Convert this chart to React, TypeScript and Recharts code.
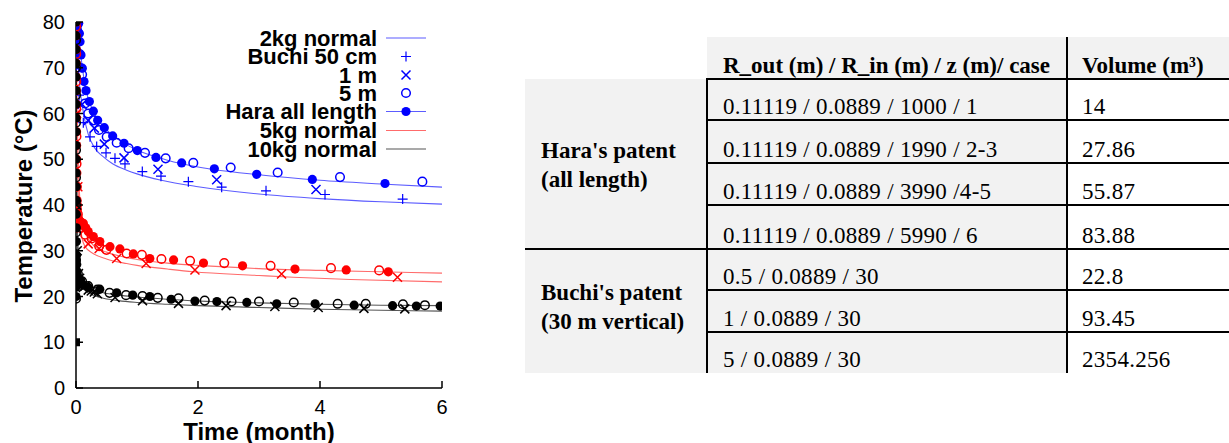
import React from 'react';
import { ComposedChart, Line, Scatter, XAxis, YAxis } from 'recharts';

type Pt = [number, number];

// ---------- chart data (t in months, T in °C) ----------
const xTicks = [0, 2, 4, 6];
const yTicks = [0, 10, 20, 30, 40, 50, 60, 70, 80];

const blueHaraLine: Pt[] = [[0, 80], [0.02, 79], [0.05, 76], [0.1, 70.5], [0.15, 66], [0.2, 63.3], [0.3, 60], [0.5, 56.5], [0.75, 53.8], [1, 52], [1.5, 49.8], [2, 48.3], [3, 46.6], [4, 45.4], [5, 44.6], [6, 43.9]];
const blueNormalLine: Pt[] = [[0, 80], [0.03, 72], [0.06, 66], [0.1, 62], [0.13, 59.5], [0.2, 55.5], [0.3, 52.6], [0.45, 50.5], [0.6, 49], [0.83, 47.6], [1, 46.8], [1.4, 45.4], [2, 44], [3, 42.4], [4, 41.4], [5, 40.7], [6, 40.2]];
const redHaraLine: Pt[] = [[0, 80], [0.01, 70], [0.02, 60], [0.04, 48], [0.07, 40], [0.1, 36.5], [0.15, 34], [0.2, 32.6], [0.3, 31], [0.5, 29.7], [0.83, 28.5], [1, 28.1], [1.5, 27.3], [2, 26.8], [3, 26.1], [4, 25.7], [5, 25.4], [6, 25.1]];
const redNormalLine: Pt[] = [[0, 80], [0.01, 65], [0.02, 52], [0.04, 42], [0.07, 36], [0.1, 32.7], [0.15, 30.9], [0.28, 29.4], [0.5, 28.2], [0.83, 27.2], [1, 26.8], [1.5, 26], [1.92, 25.4], [3, 24.6], [3.56, 24.2], [4.5, 23.7], [6, 23.2]];
const blackHaraLine: Pt[] = [[0, 80], [0.005, 65], [0.01, 52], [0.02, 38], [0.04, 29], [0.07, 25], [0.1, 23.5], [0.2, 22], [0.4, 21], [0.7, 20.3], [1, 19.9], [1.5, 19.4], [2, 19], [3, 18.6], [4, 18.3], [5, 18.1], [6, 18]];
const blackNormalLine: Pt[] = [[0, 80], [0.005, 60], [0.01, 46], [0.02, 34], [0.04, 26.5], [0.07, 23.5], [0.1, 22.2], [0.2, 20.8], [0.4, 19.8], [0.7, 19.1], [1, 18.7], [1.5, 18.3], [2, 18], [3, 17.6], [4, 17.2], [5, 17], [6, 16.8]];

const blueHaraPts: Pt[] = [[0.005, 80], [0.02, 79], [0.03, 78], [0.044, 79.7], [0.055, 77.5], [0.066, 75.7], [0.082, 72.8], [0.104, 69.9], [0.131, 67], [0.164, 65], [0.219, 62.6], [0.284, 60.5], [0.355, 58.5], [0.464, 56.9], [0.601, 55.1], [0.787, 53.5], [1.005, 51.9], [1.311, 50.4], [1.732, 49.2], [2.268, 47.9], [2.962, 46.7], [3.874, 45.6], [5.066, 44.7]];
const blue5m: Pt[] = [[0.02, 78], [0.06, 73], [0.1, 68.5], [0.148, 62.2], [0.2, 60], [0.284, 58.5], [0.377, 56.4], [0.503, 54.9], [0.667, 53.6], [0.863, 52.4], [1.131, 51.4], [1.47, 50.2], [1.923, 49.2], [2.536, 48.2], [3.306, 47.1], [4.328, 46.1], [5.678, 45.1]];
const blue1m: Pt[] = [[0.03, 70], [0.1, 62], [0.2, 58.5], [0.3, 56.8], [0.464, 53.3], [0.787, 50.3], [1.344, 47.8], [2.306, 45.5], [3.934, 43.4]];
const blueBuchi: Pt[] = [[0.05, 64], [0.12, 58], [0.23, 54.9], [0.339, 52.8], [0.492, 51.4], [0.639, 50.2], [0.803, 49], [1.087, 47.3], [1.393, 46.3], [1.842, 45.1], [2.388, 43.9], [3.115, 43.1], [4.082, 42.3], [5.355, 41.3]];

const redHaraPts: Pt[] = [[0.004, 80], [0.004, 77], [0.005, 74], [0.005, 71], [0.006, 68], [0.006, 65], [0.007, 62], [0.008, 59], [0.009, 56], [0.01, 53], [0.012, 50], [0.014, 47], [0.016, 44], [0.019, 41], [0.023, 39], [0.028, 37.5], [0.04, 37], [0.06, 36.5], [0.09, 36.2], [0.12, 36], [0.16, 35], [0.2, 34.2], [0.284, 33.1], [0.39, 32], [0.557, 30.9], [0.72, 30.4], [0.94, 29.3], [1.21, 28.3], [1.6, 28], [2.09, 27.3], [2.73, 26.7], [3.59, 26], [4.43, 25.8], [5.12, 25.4]];
const red5m: Pt[] = [[0.002, 79], [0.003, 73], [0.004, 67], [0.005, 61], [0.007, 55], [0.009, 49], [0.012, 44], [0.016, 40], [0.03, 38], [0.05, 36.5], [0.08, 35], [0.15, 33.5], [0.257, 32.7], [0.38, 31], [0.5, 30.2], [0.83, 29.4], [1.08, 29.1], [1.4, 28.2], [1.87, 27.8], [2.43, 27.3], [3.19, 26.7], [4.18, 26.2], [4.97, 25.7]];
const red1m: Pt[] = [[0.01, 60], [0.03, 44], [0.08, 35], [0.2, 31.5], [0.38, 30.5], [0.667, 28.3], [1.15, 27.2], [1.95, 25.8], [3.37, 24.9], [5.27, 24.2]];

const blackHaraPts: Pt[] = [[0, 80], [0, 77], [0, 74], [0.001, 71], [0.001, 68], [0.002, 65], [0.002, 62], [0.002, 59], [0.003, 56], [0.003, 53], [0.003, 50], [0.004, 47], [0.004, 44], [0.005, 41], [0.005, 38], [0.006, 35], [0.007, 32], [0.009, 29], [0.012, 27], [0.016, 25.5], [0.022, 24.5], [0.03, 23.8], [0.05, 23.5], [0.08, 23.1], [0.12, 22.5], [0.2, 22], [0.39, 21.6], [0.667, 20.8], [0.93, 20.3], [1.21, 20], [1.56, 19.4], [1.95, 19], [2.31, 18.9], [2.8, 18.7], [3.29, 18.4], [3.92, 18.4], [4.56, 18.1], [5.19, 18], [5.58, 17.9], [5.97, 17.9], [0, 20], [0, 22], [0, 25], [0, 28]];
const black5m: Pt[] = [[0, 76], [0, 70], [0, 64], [0, 58], [0, 52], [0, 46], [0, 40], [0, 34], [0, 28], [0, 23], [0, 19.5], [0.03, 25], [0.06, 23.6], [0.1, 23.3], [0.2, 22.3], [0.35, 21.5], [0.55, 20.8], [0.82, 20.3], [1.09, 20.1], [1.34, 19.7], [1.68, 19.6], [2.11, 19.1], [2.55, 18.9], [3, 18.9], [3.57, 18.7], [4.29, 18.4], [4.75, 18.4], [5.36, 18.3], [5.72, 18.1]];
const black1m: Pt[] = [[0.01, 40], [0.02, 30], [0.04, 25], [0.06, 24], [0.08, 23], [0.12, 22], [0.15, 22.3], [0.2, 21.4], [0.25, 21.2], [0.3, 21], [0.35, 20.6], [0.64, 19.8], [1.09, 19.1], [1.68, 18.5], [2.46, 18], [3.26, 17.8], [3.97, 17.6], [4.72, 17.4], [5.39, 17.3]];
const blackSquare: Pt[] = [[0, 10]];

const legendLabels = ['2kg normal', 'Buchi 50 cm', '1 m', '5 m', 'Hara all length', '5kg normal', '10kg normal'];

// ---------- table data ----------
const tableHeader = ['R_out (m) / R_in (m) / z (m)/ case', 'Volume (m³)'];
const groupLabels = [["Hara's patent", '(all length)'], ["Buchi's patent", '(30 m vertical)']];
const caseCol = ['0.11119 / 0.0889 / 1000 / 1', '0.11119 / 0.0889 / 1990 / 2-3', '0.11119 / 0.0889 / 3990 /4-5', '0.11119 / 0.0889 / 5990 / 6', '0.5 / 0.0889 / 30', '1 / 0.0889 / 30', '5 / 0.0889 / 30'];
const volumeCol = ['14', '27.86', '55.87', '83.88', '22.8', '93.45', '2354.256'];

// ---------- styles ----------
const SANS = 'Liberation Sans, Arial, sans-serif';
const SERIF = 'Liberation Serif, Tinos, Times New Roman, DejaVu Serif, serif';
const BLUE = '#0000ff';
const RED = '#ff0000';
const BLACK = '#000000';
const BLUE_LINE = '#5c5cff';
const RED_LINE = '#ff6b6b';
const BLACK_LINE = '#555555';

const toObj = (a: Pt[]) => a.map(([t, T]) => ({ t, T }));

const filled = (c: string) => (p: any) => <circle cx={p.cx} cy={p.cy} r={4.6} fill={c} />;
const open = (c: string) => (p: any) => <circle cx={p.cx} cy={p.cy} r={4.3} fill="none" stroke={c} strokeWidth={1.5} />;
const plus = (c: string) => (p: any) => (
  <path d={`M${p.cx - 5},${p.cy}h10M${p.cx},${p.cy - 5}v10`} stroke={c} strokeWidth={1.2} fill="none" />
);
const cross = (c: string) => (p: any) => (
  <path d={`M${p.cx - 4.5},${p.cy - 4.5}l9,9M${p.cx - 4.5},${p.cy + 4.5}l9,-9`} stroke={c} strokeWidth={1.5} fill="none" />
);
const square = (c: string) => (p: any) => <rect x={p.cx - 4} y={p.cy - 4} width={8} height={8} fill={c} />;

const XTick = (p: any) => (
  <g>
    <line x1={p.x} x2={p.x} y1={p.y} y2={p.y - 7} stroke="#000" strokeWidth={1.5} />
    <text x={p.x} y={p.y + 26} textAnchor="middle" fontSize={20} fontFamily={SANS} fill="#000">{p.payload.value}</text>
  </g>
);
const YTick = (p: any) => (
  <g>
    <line x1={p.x} x2={p.x + 7} y1={p.y} y2={p.y} stroke="#000" strokeWidth={1.5} />
    <text x={p.x - 11} y={p.y + 7} textAnchor="end" fontSize={20} fontFamily={SANS} fill="#000">{p.payload.value}</text>
  </g>
);

const lines: { data: Pt[]; color: string }[] = [
  { data: blueNormalLine, color: BLUE_LINE },
  { data: blueHaraLine, color: BLUE_LINE },
  { data: redNormalLine, color: RED_LINE },
  { data: redHaraLine, color: RED_LINE },
  { data: blackNormalLine, color: BLACK_LINE },
  { data: blackHaraLine, color: BLACK_LINE },
];

const scatters: { data: Pt[]; shape: any }[] = [
  { data: blueBuchi, shape: plus(BLUE) },
  { data: blue1m, shape: cross(BLUE) },
  { data: blue5m, shape: open(BLUE) },
  { data: blueHaraPts, shape: filled(BLUE) },
  { data: red1m, shape: cross(RED) },
  { data: red5m, shape: open(RED) },
  { data: redHaraPts, shape: filled(RED) },
  { data: black1m, shape: cross(BLACK) },
  { data: black5m, shape: open(BLACK) },
  { data: blackHaraPts, shape: filled(BLACK) },
  { data: blackSquare, shape: square(BLACK) },
];

const legendY = [38, 56.5, 75, 93, 111.5, 130.5, 149];

const LegendSym = ({ i, y }: { i: number; y: number }) => {
  const cx = 406;
  if (i === 0) return <line x1={386} x2={426} y1={y} y2={y} stroke={BLUE_LINE} strokeWidth={1.2} />;
  if (i === 1) return plus(BLUE)({ cx, cy: y });
  if (i === 2) return cross(BLUE)({ cx, cy: y });
  if (i === 3) return open(BLUE)({ cx, cy: y });
  if (i === 4)
    return (
      <g>
        <line x1={386} x2={426} y1={y} y2={y} stroke={BLUE_LINE} strokeWidth={1.2} />
        {filled(BLUE)({ cx, cy: y })}
      </g>
    );
  if (i === 5) return <line x1={386} x2={426} y1={y} y2={y} stroke={RED_LINE} strokeWidth={1.2} />;
  return <line x1={386} x2={426} y1={y} y2={y} stroke={BLACK_LINE} strokeWidth={1.2} />;
};

const rowTops = [79, 120, 163, 205, 249, 290, 332];
const rowBottoms = [120, 163, 205, 249, 290, 332, 373];

const serifStyle: React.CSSProperties = { fontFamily: SERIF };

const Table = () => (
  <svg width={1229} height={443} style={{ position: 'absolute', left: 0, top: 0, pointerEvents: 'none' }}>
    <rect x={707} y={37} width={522} height={42} fill="#f2f2f2" />
    <rect x={525} y={79} width={182} height={294} fill="#f2f2f2" />
    <rect x={707} y={79} width={360} height={294} fill="#f2f2f2" />
    <text x={723} y={73} style={serifStyle} fontSize={23} fontWeight="bold" fill="#000">{tableHeader[0]}</text>
    <text x={1082} y={73} style={serifStyle} fontSize={23} fontWeight="bold" fill="#000">{tableHeader[1]}</text>
    {caseCol.map((c, i) => (
      <text key={'c' + i} x={723} y={rowBottoms[i] - 6.5} style={serifStyle} fontSize={23} letterSpacing={0.3} fill="#000">{c}</text>
    ))}
    {volumeCol.map((c, i) => (
      <text key={'v' + i} x={1082} y={rowBottoms[i] - 6.5} style={serifStyle} fontSize={23} letterSpacing={0.3} fill="#000">{c}</text>
    ))}
    {groupLabels.map((g, gi) => {
      const base = gi === 0 ? 158 : 299.5;
      return g.map((s, li) => (
        <text key={'g' + gi + li} x={541} y={base + li * 29} style={serifStyle} fontSize={23} fontWeight="bold" fill="#000">{s}</text>
      ));
    })}
    <line x1={1067} x2={1067} y1={37} y2={373} stroke="#000" strokeWidth={2} />
    <line x1={707} x2={707} y1={79} y2={373} stroke="#000" strokeWidth={2} />
    {rowTops.map((y, i) => (
      <line key={'h' + i} x1={y === 249 ? 525 : 706} x2={1229} y1={y} y2={y} stroke="#000" strokeWidth={2} />
    ))}
  </svg>
);

export default function App() {
  return (
    <div style={{ position: 'absolute', left: 0, top: 0, width: 1229, height: 443, background: '#fff', overflow: 'hidden' }}>
      <div style={{ position: 'absolute', left: 0, top: 0 }}>
        <ComposedChart width={460} height={443} margin={{ top: 22, right: 18, bottom: 25, left: 0 }}>
          <XAxis
            type="number"
            dataKey="t"
            domain={[0, 6]}
            ticks={xTicks}
            interval={0}
            height={30}
            tickSize={0}
            tickMargin={0}
            tick={XTick}
            axisLine={{ stroke: '#000', strokeWidth: 1.5 }}
            allowDataOverflow
          />
          <YAxis
            type="number"
            dataKey="T"
            domain={[0, 80]}
            ticks={yTicks}
            interval={0}
            width={76}
            tickSize={0}
            tickMargin={0}
            tick={YTick}
            axisLine={{ stroke: '#000', strokeWidth: 1.5 }}
            allowDataOverflow
          />
          {lines.map((l, i) => (
            <Line
              key={'l' + i}
              data={toObj(l.data)}
              dataKey="T"
              type="monotone"
              stroke={l.color}
              strokeWidth={1.1}
              dot={false}
              activeDot={false}
              isAnimationActive={false}
            />
          ))}
          {scatters.map((s, i) => (
            <Scatter key={'s' + i} data={toObj(s.data)} dataKey="T" shape={s.shape} isAnimationActive={false} />
          ))}
        </ComposedChart>
      </div>
      <svg width={460} height={443} style={{ position: 'absolute', left: 0, top: 0, pointerEvents: 'none' }}>
        {legendLabels.map((lab, i) => (
          <g key={lab}>
            <text x={377} y={legendY[i] + 7.5} textAnchor="end" fontFamily={SANS} fontSize={22} fontWeight="bold" fill="#000">{lab}</text>
            <LegendSym i={i} y={legendY[i]} />
          </g>
        ))}
        <text x={259} y={440} textAnchor="middle" fontFamily={SANS} fontSize={24} fontWeight="bold" fill="#000">Time (month)</text>
        <text
          transform="translate(32,206) rotate(-90)"
          x={0}
          y={0}
          textAnchor="middle"
          fontFamily={SANS}
          fontSize={24}
          fontWeight="bold"
          fill="#000"
        >Temperature (°C)</text>
      </svg>
      <Table />
    </div>
  );
}
